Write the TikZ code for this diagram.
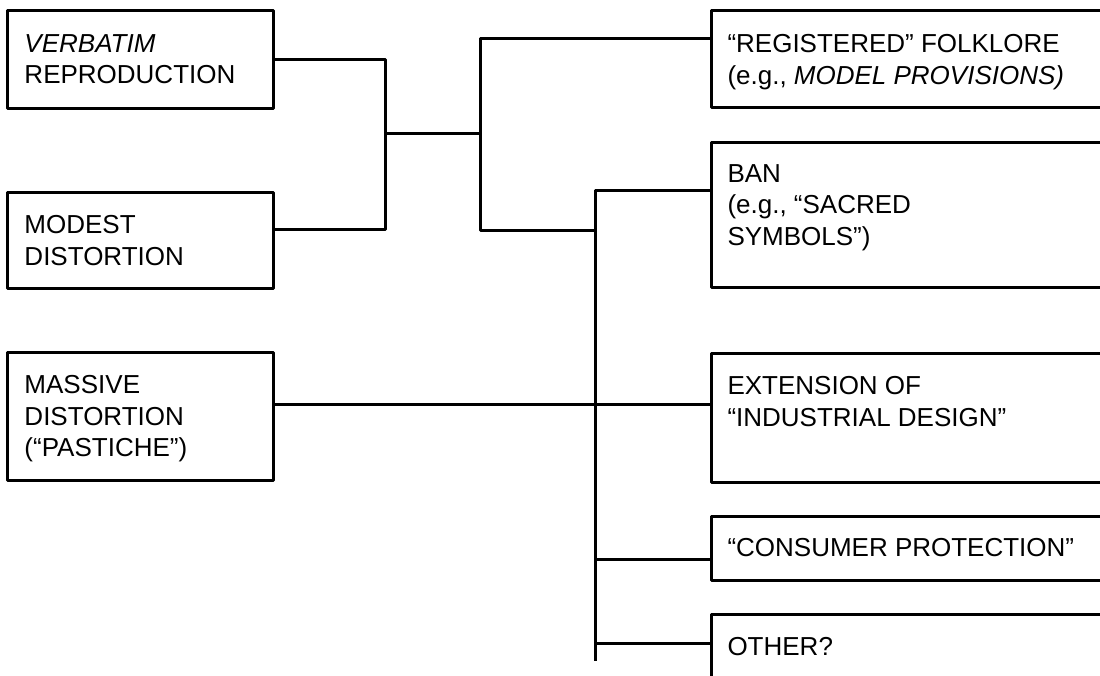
\documentclass[tikz,border=0pt]{standalone}
\usepackage{fontspec}
\setmainfont{Liberation Sans}
\begin{document}
\begin{tikzpicture}[x=0.5pt, y=-0.5pt, line width=1.5pt, line join=round,
		font=\fontsize{13}{15.75}\selectfont,
		box/.style={draw, anchor=north west, minimum width=133pt, inner sep=0pt, outer sep=0pt},
		rbox/.style={box, minimum width=215pt},
		txt/.style={anchor=north west, align=left, inner sep=0pt}]
				\useasboundingbox (0,0) rectangle (1100,676);
				\clip (0,0) rectangle (1100,676);
				\node[box, minimum height=49pt] (verb) at (7,10) {};
				\node[box, minimum height=48pt] (modest) at (7,192) {};
				\node[box, minimum height=64pt] (massive) at (7,352) {};
				\node[rbox, minimum height=48.5pt] (reg) at (711,10) {};
				\node[rbox, minimum height=72.5pt] (ban) at (711,142) {};
				\node[rbox, minimum height=64.5pt] (ext) at (711,353) {};
				\node[rbox, minimum height=32pt] (cons) at (711,516) {};
				\node[rbox, minimum height=60pt] (other) at (711,614) {};
				\node[txt] (verb-t) at ([shift={(16,23)}]verb.north west) {\textit{VERBATIM}\\REPRODUCTION};
				\node[txt] (modest-t) at ([shift={(16,22)}]modest.north west) {MODEST\\DISTORTION};
				\node[txt] (massive-t) at ([shift={(16,22)}]massive.north west) {MASSIVE\\DISTORTION\\(“PASTICHE”)};
				\node[txt] (reg-t) at ([shift={(15,23)}]reg.north west) {“REGISTERED” FOLKLORE\\(e.g., \textit{MODEL PROVISIONS)}};
				\node[txt] (ban-t) at ([shift={(15,21)}]ban.north west) {BAN\\(e.g., “SACRED\\SYMBOLS”)};
				\node[txt] (ext-t) at ([shift={(15,22)}]ext.north west) {EXTENSION OF\\“INDUSTRIAL DESIGN”};
				\node[txt] (cons-t) at ([shift={(15,21)}]cons.north west) {“CONSUMER PROTECTION”};
				\node[txt] (other-t) at ([shift={(15,22)}]other.north west) {OTHER?};
				\coordinate (j1) at (385,133);
				\coordinate (j2) at (480,133);
				\coordinate (j3) at (595,230);
				\coordinate (tail) at (595,661);
				\draw (verb.east) -| (j1) |- ([yshift=5.5pt]modest.east);
				\draw (j1) -- (j2);
				\draw ([yshift=10.25pt]reg.west) -| (j2) |- (j3);
				\draw ([yshift=12.25pt]ban.west) -| (tail);
				\draw ([yshift=6pt]massive.east) coordinate (m) -- (m -| ext.west);
				\draw ([yshift=-5.5pt]cons.west) coordinate (c) -- (c -| tail);
				\draw ([yshift=-14.5pt]other.north west) coordinate (o) -- (o -| tail);
			\end{tikzpicture}
\end{document}
